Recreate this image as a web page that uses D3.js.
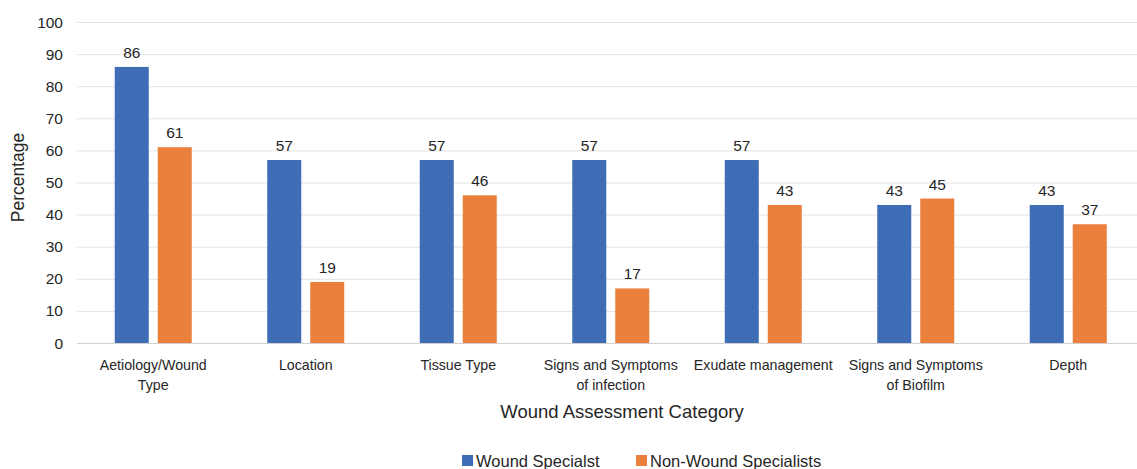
<!DOCTYPE html>
<html>
<head>
<meta charset="utf-8">
<script src="https://cdn.jsdelivr.net/npm/d3@7"></script>
<style>
  body { margin: 0; background: #fff; }
  text { font-family: "Liberation Sans", Arial, sans-serif; fill: #262626; }
</style>
</head>
<body>
<div id="grafico"></div>
<script>
var categorias = [
  ["Aetiology/Wound", "Type"],
  ["Location"],
  ["Tissue Type"],
  ["Signs and Symptoms", "of infection"],
  ["Exudate management"],
  ["Signs and Symptoms", "of Biofilm"],
  ["Depth"]
];
var series = ["Wound Specialst", "Non-Wound Specialists"];
var especialistas = [86, 57, 57, 57, 57, 43, 43];
var noEspecialistas = [61, 19, 46, 17, 43, 45, 37];
var ticksY = [0, 10, 20, 30, 40, 50, 60, 70, 80, 90, 100];
var colores = ["#3E6DB5", "#EB7F3C"];

var width = 1137, height = 469;
var svg = d3.select("#grafico").append("svg")
  .attr("width", width).attr("height", height);

var idx = d3.range(categorias.length);
var x = d3.scaleBand().domain(idx).range([77, 1144.5]);
var y = d3.scaleLinear().domain([0, 100]).range([343, 22]);
var anchoBarra = 34, separacion = 9;

// lineas de la grilla
svg.append("g").selectAll("line")
  .data(ticksY)
  .enter().append("line")
  .attr("x1", 77).attr("x2", width)
  .attr("y1", function(d){ return y(d) + 0.5; })
  .attr("y2", function(d){ return y(d) + 0.5; })
  .attr("stroke", function(d){ return d === 0 ? "#d0d0d0" : "#e3e3e3"; })
  .attr("stroke-width", 1);

// etiquetas eje y
svg.append("g").selectAll("text")
  .data(ticksY)
  .enter().append("text")
  .attr("x", 63).attr("y", function(d){ return y(d) + 5.5; })
  .attr("text-anchor", "end")
  .style("font-size", "15.5px")
  .text(function(d){ return d; });

var datos = [especialistas, noEspecialistas];
datos.forEach(function(serie, s){
  var g = svg.append("g");
  var xPos = function(i){
    var centro = x(i) + x.bandwidth() / 2;
    return s === 0 ? centro - separacion / 2 - anchoBarra : centro + separacion / 2;
  };
  g.selectAll("rect")
    .data(serie)
    .enter().append("rect")
    .attr("x", function(d, i){ return xPos(i); })
    .attr("y", function(d){ return y(d); })
    .attr("width", anchoBarra)
    .attr("height", function(d){ return y(0) - y(d); })
    .attr("fill", colores[s]);
  g.selectAll("text")
    .data(serie)
    .enter().append("text")
    .attr("x", function(d, i){ return xPos(i) + anchoBarra / 2; })
    .attr("y", function(d){ return y(d) - 9; })
    .attr("text-anchor", "middle")
    .style("font-size", "15.5px")
    .text(function(d){ return d; });
});

// etiquetas de categorias
var etiq = svg.append("g").selectAll("text")
  .data(categorias)
  .enter().append("text")
  .attr("x", function(d, i){ return x(i) + x.bandwidth() / 2; })
  .attr("y", 370)
  .attr("text-anchor", "middle")
  .style("font-size", "14.2px");
etiq.selectAll("tspan")
  .data(function(d){ return d; })
  .enter().append("tspan")
  .attr("x", function(){ return d3.select(this.parentNode).attr("x"); })
  .attr("dy", function(d, i){ return i === 0 ? 0 : 20; })
  .text(function(d){ return d; });

// titulos de ejes
svg.append("text")
  .attr("x", (77 + width) / 2 + 15).attr("y", 418)
  .attr("text-anchor", "middle")
  .style("font-size", "18.5px")
  .text("Wound Assessment Category");

svg.append("text")
  .attr("transform", "translate(24," + (y(50) - 5) + ") rotate(-90)")
  .attr("text-anchor", "middle")
  .style("font-size", "17.5px")
  .text("Percentage");

// leyenda
var leyenda = svg.append("g").selectAll("g")
  .data(series)
  .enter().append("g")
  .attr("transform", function(d, i){ return "translate(" + (462 + i * 174) + ",455)"; });
leyenda.append("rect")
  .attr("width", 11).attr("height", 11)
  .attr("fill", function(d, i){ return colores[i]; });
leyenda.append("text")
  .attr("x", 14).attr("y", 12)
  .style("font-size", "16.5px")
  .text(function(d){ return d; });
</script>
</body>
</html>
